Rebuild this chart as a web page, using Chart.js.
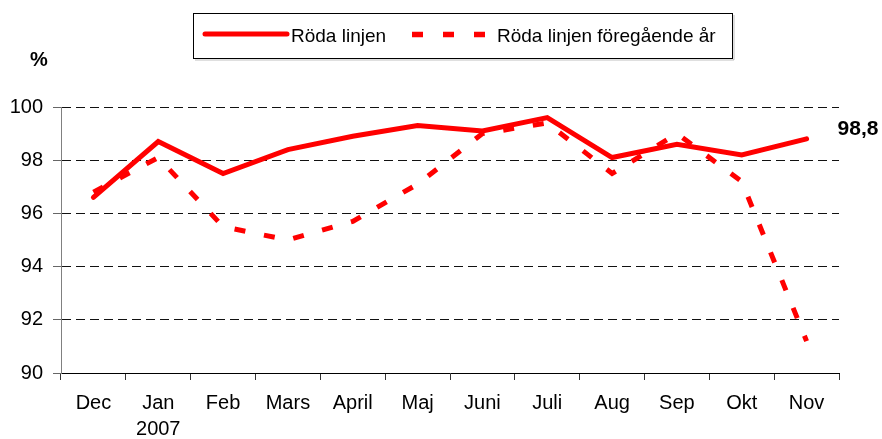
<!DOCTYPE html>
<html>
<head>
<meta charset="utf-8">
<script src="https://cdn.jsdelivr.net/npm/chart.js@4/dist/chart.umd.min.js"></script>
<style>
  html, body { margin: 0; padding: 0; background: #fff; }
  #wrap { position: relative; width: 882px; height: 439px; }
</style>
</head>
<body>
<div id="wrap"><canvas id="c" width="882" height="439"></canvas></div>
<script>
const categories = ["Dec", ["Jan", "2007"], "Feb", "Mars", "April", "Maj", "Juni", "Juli", "Aug", "Sep", "Okt", "Nov"];
const rodaLinjen = [96.6, 98.7, 97.5, 98.4, 98.9, 99.3, 99.1, 99.6, 98.1, 98.6, 98.2, 98.8];
const rodaLinjenForegaende = [96.8, 98.1, 95.5, 95.0, 95.7, 97.1, 99.0, 99.4, 97.5, 99.0, 97.2, 91.2];
const seriesNames = ["Röda linjen", "Röda linjen föregående år"];
const yTicks = [90, 92, 94, 96, 98, 100];
const lastLabel = "98,8";
const unitLabel = "%";

const FONT = "'Liberation Sans', Arial, sans-serif";
const RED = "#ff0000";

const overlay = {
  id: "overlay",
  afterDraw(chart) {
    const ctx = chart.ctx;
    ctx.save();
    // legend box
    ctx.strokeStyle = "#000";
    ctx.lineWidth = 1;
    ctx.strokeRect(193.5, 13.5, 539, 45);
    ctx.strokeStyle = "rgba(0,0,0,0.25)";
    ctx.beginPath();
    ctx.moveTo(734, 15); ctx.lineTo(734, 60); ctx.lineTo(195, 60);
    ctx.stroke();
    // solid sample
    ctx.strokeStyle = RED;
    ctx.lineWidth = 5;
    ctx.lineCap = "round";
    ctx.beginPath();
    ctx.moveTo(205, 34); ctx.lineTo(287, 34);
    ctx.stroke();
    // dashed sample
    ctx.lineCap = "butt";
    ctx.lineWidth = 5.5;
    ctx.setLineDash([11, 20]);
    ctx.beginPath();
    ctx.moveTo(412, 34.5); ctx.lineTo(486, 34.5);
    ctx.stroke();
    ctx.setLineDash([]);
    // legend texts
    ctx.fillStyle = "#000";
    ctx.font = "19px " + FONT;
    ctx.textBaseline = "alphabetic";
    ctx.textAlign = "left";
    ctx.fillText(seriesNames[0], 291, 42);
    ctx.fillText(seriesNames[1], 497, 42);
    // unit label
    ctx.font = "bold 20px " + FONT;
    ctx.fillText(unitLabel, 30, 66);
    // last value label
    const meta = chart.getDatasetMeta(0);
    const pt = meta.data[meta.data.length - 1];
    ctx.font = "bold 21px " + FONT;
    ctx.fillText(lastLabel, pt.x + 31, pt.y - 4);
    ctx.restore();
  }
};

new Chart(document.getElementById("c"), {
  type: "line",
  data: {
    labels: categories,
    datasets: [
      {
        label: seriesNames[0],
        data: rodaLinjen,
        borderColor: RED,
        backgroundColor: RED,
        borderWidth: 5,
        borderCapStyle: "round",
        borderJoinStyle: "miter",
        pointRadius: 0,
        tension: 0,
        fill: false,
        order: 1
      },
      {
        label: seriesNames[1],
        data: rodaLinjenForegaende,
        borderColor: RED,
        backgroundColor: RED,
        borderWidth: 5,
        borderDash: [11, 19],
        borderCapStyle: "butt",
        pointRadius: 0,
        tension: 0,
        fill: false,
        order: 2
      }
    ]
  },
  options: {
    responsive: false,
    animation: false,
    devicePixelRatio: 1,
    layout: { padding: { top: 107, right: 43, left: 0, bottom: 0 } },
    plugins: { legend: { display: false }, tooltip: { enabled: false } },
    scales: {
      x: {
        type: "category",
        offset: true,
        grid: {
          offset: true,
          drawOnChartArea: false,
          drawTicks: true,
          tickLength: 7,
          tickColor: "#333",
          tickWidth: 1
        },
        border: { color: "#000", width: 1 },
        ticks: {
          color: "#000",
          font: { family: FONT, size: 20, lineHeight: 1.27 },
          padding: 11,
          maxRotation: 0,
          autoSkip: false
        },
        afterFit(scale) { scale.height = 66; }
      },
      y: {
        min: yTicks[0],
        max: yTicks[yTicks.length - 1],
        afterBuildTicks(scale) { scale.ticks = yTicks.map(v => ({ value: v })); },
        grid: {
          color: (c) => (c.tick && c.tick.value === yTicks[0]) ? "rgba(0,0,0,0)" : "#111",
          lineWidth: 1,
          drawTicks: true,
          tickLength: 8,
          tickColor: "#666",
          tickBorderDash: [],
          tickWidth: 1
        },
        border: { color: "#808080", width: 1, dash: [9, 5] },
        ticks: {
          color: "#000",
          font: { family: FONT, size: 20 },
          padding: 10
        },
        afterFit(scale) { scale.width = 61; }
      }
    }
  },
  plugins: [overlay]
});
</script>
</body>
</html>
